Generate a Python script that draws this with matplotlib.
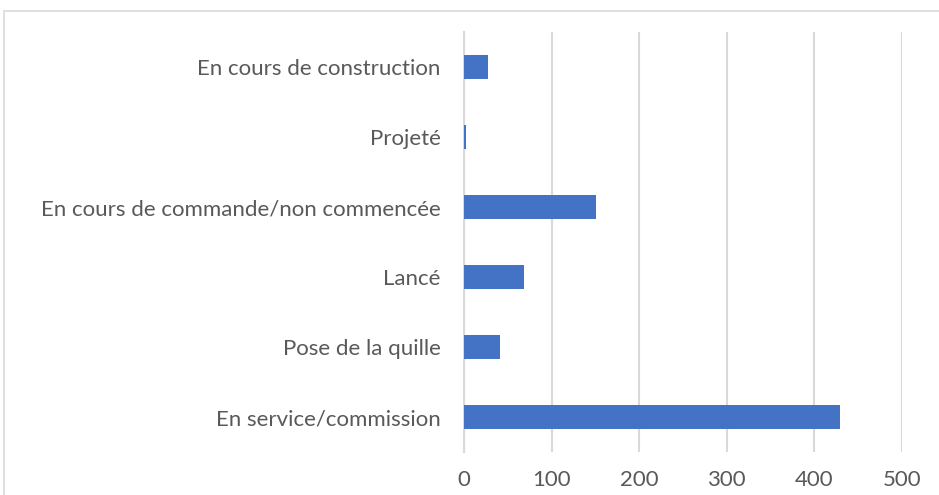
import matplotlib.pyplot as plt
from matplotlib.patches import Rectangle

plt.rcParams['font.family'] = ['Lato', 'DejaVu Sans']

# bottom to top, as drawn on the vertical axis
statuts = ['En service/commission', 'Pose de la quille', 'Lancé',
           'En cours de commande/non commencée', 'Projeté',
           'En cours de construction']
navires = [429, 41, 68, 151, 2, 27]
graduations = [0, 100, 200, 300, 400, 500]

fig = plt.figure(figsize=(9.39, 4.95), dpi=100)
ax = fig.add_axes([464 / 939, 1 - 452 / 495, 438 / 939, 420 / 495])

ax.barh(range(len(statuts)), navires, height=0.35, color='#4472C4', zorder=3)

ax.set_xlim(0, 500)
ax.set_ylim(-0.5, len(statuts) - 0.5)
ax.set_xticks(graduations)
ax.set_yticks(range(len(statuts)))
ax.set_yticklabels(statuts)
ax.tick_params(axis='both', length=0, labelsize=16, colors='#595959')
ax.tick_params(axis='y', pad=17)
ax.tick_params(axis='x', pad=13)

ax.grid(axis='x', color='#D9D9D9', linewidth=1.5, zorder=0)
for side in ['top', 'right', 'bottom']:
    ax.spines[side].set_visible(False)
ax.spines['left'].set_color('#D9D9D9')
ax.spines['left'].set_linewidth(1.5)

# chart frame, running past the right and bottom edges
fig.patches.append(Rectangle((4 / 939, -0.1), 1.0, 1 - 11 / 495 + 0.1,
                             transform=fig.transFigure, fill=False,
                             edgecolor='#D9D9D9', linewidth=1.2))

fig.savefig('out.png', dpi=100)
